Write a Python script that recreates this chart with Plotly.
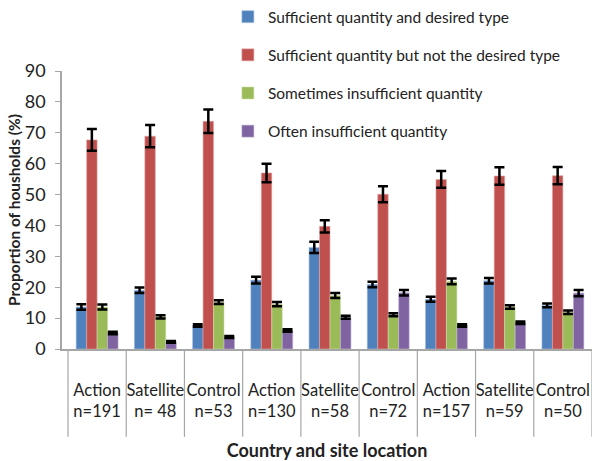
import plotly.graph_objects as go

categories = ["Action<br>n=191", "Satellite<br>n= 48", "Control<br>n=53",
              "Action<br>n=130", "Satellite<br>n=58", "Control<br>n=72",
              "Action<br>n=157", "Satellite<br>n=59", "Control<br>n=50"]

series_names = ["Sufficient quantity and desired type",
                "Sufficient quantity but not the desired type",
                "Sometimes insufficient quantity",
                "Often insufficient quantity"]

sufficient_desired = [13.6, 19.0, 7.6, 22.3, 32.9, 20.9, 16.1, 22.1, 14.1]
sufficient_not_desired = [67.7, 68.9, 73.7, 57.0, 39.7, 50.1, 54.9, 56.0, 56.1]
sometimes_insufficient = [13.6, 10.4, 15.2, 14.5, 17.3, 11.1, 21.9, 13.6, 11.9]
often_insufficient = [5.2, 2.3, 3.9, 6.0, 10.3, 18.2, 7.6, 8.5, 18.1]

err_sufficient_desired = [0.9, 0.9, 0.4, 1.1, 1.8, 0.9, 0.8, 0.9, 0.6]
err_sufficient_not_desired = [3.5, 3.6, 3.8, 3.0, 2.0, 2.6, 2.7, 2.8, 2.8]
err_sometimes_insufficient = [0.8, 0.5, 0.6, 0.7, 0.8, 0.5, 0.9, 0.6, 0.6]
err_often_insufficient = [0.4, 0.3, 0.3, 0.4, 0.5, 0.9, 0.4, 0.4, 1.0]

colors = ["#4F81BD", "#C0504D", "#9BBB59", "#8064A2"]
edge_colors = ["#A7C0DE", "#E0A8A6", "#CDDDAC", "#BFB1D0"]

values = [sufficient_desired, sufficient_not_desired, sometimes_insufficient, often_insufficient]
errors = [err_sufficient_desired, err_sufficient_not_desired, err_sometimes_insufficient, err_often_insufficient]

FONT = "Lato"

fig = go.Figure()
for name, vals, errs, col, ecol in zip(series_names, values, errors, colors, edge_colors):
    fig.add_trace(go.Bar(
        x=categories, y=vals, name=name, legendgroup=name,
        marker=dict(color=col, line=dict(color=ecol, width=0.6)),
        error_y=dict(type="data", array=errs, visible=True,
                     color="black", thickness=2.5, width=5),
    ))

# category divider lines below the axis
shapes = []
for i in range(len(categories) + 1):
    shapes.append(dict(type="line", xref="x", yref="paper",
                       x0=i - 0.5, x1=i - 0.5, y0=0, y1=-0.316,
                       line=dict(color="#A6A6A6", width=1.2)))

fig.update_layout(
    width=592, height=461,
    margin=dict(l=62, r=0, t=71, b=111.5, autoexpand=False),
    paper_bgcolor="white", plot_bgcolor="white",
    barmode="group", bargap=0.28, bargroupgap=0,
    font=dict(family=FONT, color="#222222"),
    showlegend=True,
    legend=dict(x=0.313, y=1.255, xanchor="left", yanchor="top",
                bgcolor="rgba(0,0,0,0)", font=dict(family=FONT, size=15.5, color="#222222"),
                tracegroupgap=15, itemwidth=30),
    shapes=shapes,
    xaxis=dict(
        type="category", range=[-0.603, 8.5],
        showline=True, linecolor="#A6A6A6", linewidth=1.5,
        ticks="outside", ticklen=25, tickcolor="rgba(0,0,0,0)",
        tickfont=dict(family=FONT, size=16.5, color="#222222"),
        automargin=False,
        title=dict(text="<b>Country and site location</b>", standoff=30,
                   font=dict(family=FONT, size=18, color="#222222")),
    ),
    yaxis=dict(
        range=[0, 90], dtick=10,
        showline=True, linecolor="#A6A6A6", linewidth=1.5,
        ticks="outside", ticklen=5, tickcolor="#A6A6A6",
        ticklabelstandoff=6,
        showgrid=False, zeroline=False, automargin=False,
        tickfont=dict(family=FONT, size=18, color="#222222"),
        title=dict(text="<b>Proportion of housholds (%)</b>", standoff=0,
                   font=dict(family=FONT, size=15.5, color="#222222")),
    ),
)

fig.write_html("out.html", config={"displayModeBar": False},
               post_script="document.body.style.margin='0';")
